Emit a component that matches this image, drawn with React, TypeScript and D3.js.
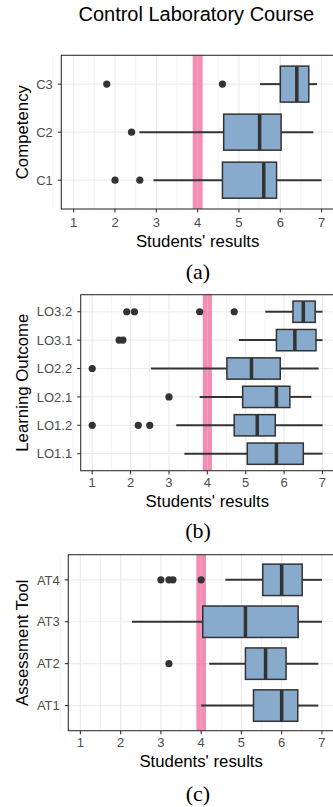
import React from "react";
import * as d3 from "d3";

// ---------- data ----------
const xTicks = [1, 2, 3, 4, 5, 6, 7];
const passBand = [3.88, 4.12];

// (a) Competency (bottom -> top)
const compCats = ["C1", "C2", "C3"];
const compLow = [2.93, 2.59, 5.51];
const compQ1 = [4.6, 4.63, 6.0];
const compMed = [5.6, 5.5, 6.4];
const compQ3 = [5.91, 6.02, 6.69];
const compHigh = [7.0, 6.8, 6.89];
const compOut = [[2.0, 2.6], [2.4], [1.8, 4.6]];

// (b) Learning Outcome
const loCats = ["LO1.1", "LO1.2", "LO2.1", "LO2.2", "LO3.1", "LO3.2"];
const loLow = [3.4, 3.19, 3.8, 2.53, 4.82, 5.51];
const loQ1 = [5.04, 4.7, 4.92, 4.51, 5.8, 6.23];
const loMed = [5.8, 5.3, 5.8, 5.15, 6.28, 6.5];
const loQ3 = [6.5, 5.77, 6.15, 5.9, 6.83, 6.81];
const loHigh = [7.0, 7.0, 6.71, 6.9, 7.0, 7.0];
const loOut = [[], [1.0, 2.2, 2.5], [3.0], [1.0], [1.7, 1.8], [1.9, 2.1, 3.8, 4.7]];

// (c) Assessment Tool
const atCats = ["AT1", "AT2", "AT3", "AT4"];
const atLow = [4.0, 4.2, 2.28, 4.6];
const atQ1 = [5.3, 5.1, 4.04, 5.53];
const atMed = [6.0, 5.6, 5.1, 6.0];
const atQ3 = [6.4, 6.11, 6.41, 6.51];
const atHigh = [6.91, 6.91, 7.0, 7.0];
const atOut = [[], [3.2], [], [3.0, 3.2, 3.3, 4.0]];

// ---------- style ----------
const SANS = "'Liberation Sans', Arial, sans-serif";
const SERIF = "'Liberation Serif', 'Times New Roman', serif";
const GRID = "#ebebeb";
const DARK = "#333333";
const BOXFILL = "#88aacc";
const PINK = "rgba(238,80,140,0.65)";

type PanelProps = {
  top: number; bottom: number; left: number; right: number;
  cats: string[]; low: number[]; q1: number[]; med: number[]; q3: number[]; high: number[]; out: number[][];
  yTitle: string; tickBase: number; xTitleBase: number; caption: string; captionBase: number;
};

function Panel(p: PanelProps) {
  const x = d3.scaleLinear().domain([0.7, 7.3]).range([p.left, p.right]);
  const y = d3.scalePoint<string>().domain(p.cats).range([p.bottom, p.top]).padding(0.6);
  const step = y.step();
  const bh = step * 0.75;
  const minor = d3.range(0.5, 7.6, 1);
  const w = p.right - p.left;
  const h = p.bottom - p.top;
  return (
    <g>
      <rect x={p.left} y={p.top} width={w} height={h} fill="#fff" />
      {minor.map((v) => (
        <line key={"mi" + v} x1={x(v)} x2={x(v)} y1={p.top} y2={p.bottom} stroke={GRID} strokeWidth={0.6} />
      ))}
      {xTicks.map((v) => (
        <line key={"ma" + v} x1={x(v)} x2={x(v)} y1={p.top} y2={p.bottom} stroke={GRID} strokeWidth={1.2} />
      ))}
      {p.cats.map((c) => (
        <line key={"hy" + c} x1={p.left} x2={p.right} y1={y(c)} y2={y(c)} stroke={GRID} strokeWidth={1.2} />
      ))}
      <rect x={x(passBand[0])} y={p.top} width={x(passBand[1]) - x(passBand[0])} height={h} fill={PINK} />
      <line x1={x(4)} x2={x(4)} y1={p.top} y2={p.bottom} stroke="rgba(255,255,255,0.25)" strokeWidth={1} />
      {p.cats.map((c, i) => {
        const cy = y(c) as number;
        return (
          <g key={"b" + c}>
            <line x1={x(p.low[i])} x2={x(p.q1[i])} y1={cy} y2={cy} stroke={DARK} strokeWidth={2} />
            <line x1={x(p.q3[i])} x2={x(p.high[i])} y1={cy} y2={cy} stroke={DARK} strokeWidth={2} />
            <rect x={x(p.q1[i])} y={cy - bh / 2} width={x(p.q3[i]) - x(p.q1[i])} height={bh}
              fill={BOXFILL} stroke={DARK} strokeWidth={1.5} />
            <line x1={x(p.med[i])} x2={x(p.med[i])} y1={cy - bh / 2} y2={cy + bh / 2} stroke={DARK} strokeWidth={3.5} />
            {p.out[i].map((v, j) => (
              <circle key={j} cx={x(v)} cy={cy} r={3.6} fill={DARK} />
            ))}
          </g>
        );
      })}
      <rect x={p.left} y={p.top} width={w} height={h} fill="none" stroke={DARK} strokeWidth={1.1} />
      {xTicks.map((v) => (
        <g key={"xt" + v}>
          <line x1={x(v)} x2={x(v)} y1={p.bottom} y2={p.bottom + 3.5} stroke={DARK} strokeWidth={1.1} />
          <text x={x(v)} y={p.tickBase} textAnchor="middle" fontSize={13} fill="#4d4d4d" fontFamily={SANS}>{v}</text>
        </g>
      ))}
      {p.cats.map((c) => (
        <g key={"yt" + c}>
          <line x1={p.left - 3.5} x2={p.left} y1={y(c)} y2={y(c)} stroke={DARK} strokeWidth={1.1} />
          <text x={p.left - 8.5} y={y(c)} dy="0.36em" textAnchor="end" fontSize={13} fill="#4d4d4d" fontFamily={SANS}>{c}</text>
        </g>
      ))}
      <text x={(p.left + p.right) / 2} y={p.xTitleBase} textAnchor="middle" fontSize={16.8} fill="#000" fontFamily={SANS}>Students' results</text>
      <text transform={`translate(28,${(p.top + p.bottom) / 2}) rotate(-90)`} textAnchor="middle" fontSize={16.8} fill="#000" fontFamily={SANS}>{p.yTitle}</text>
      <text x={198} y={p.captionBase} textAnchor="middle" fontSize={22} fill="#000" fontFamily={SERIF}>{p.caption}</text>
    </g>
  );
}

export default function App() {
  return (
    <svg width={333} height={807} style={{ position: "absolute", left: 0, top: 0, background: "#fff" }}>
      <rect x={0} y={0} width={333} height={807} fill="#fff" />
      <text x={196.3} y={21} textAnchor="middle" fontSize={20} fill="#000" fontFamily={SANS}>Control Laboratory Course</text>
      <Panel top={55.3} bottom={209} left={61.3} right={334}
        cats={compCats} low={compLow} q1={compQ1} med={compMed} q3={compQ3} high={compHigh} out={compOut}
        yTitle="Competency" tickBase={227.3} xTitleBase={246.7} caption="(a)" captionBase={279.4} />
      <Panel top={294.7} bottom={470.7} left={80.7} right={334}
        cats={loCats} low={loLow} q1={loQ1} med={loMed} q3={loQ3} high={loHigh} out={loOut}
        yTitle="Learning Outcome" tickBase={486.7} xTitleBase={507} caption="(b)" captionBase={537.8} />
      <Panel top={554.7} bottom={730.7} left={68.3} right={334}
        cats={atCats} low={atLow} q1={atQ1} med={atMed} q3={atQ3} high={atHigh} out={atOut}
        yTitle="Assessment Tool" tickBase={747.3} xTitleBase={767} caption="(c)" captionBase={801} />
    </svg>
  );
}
